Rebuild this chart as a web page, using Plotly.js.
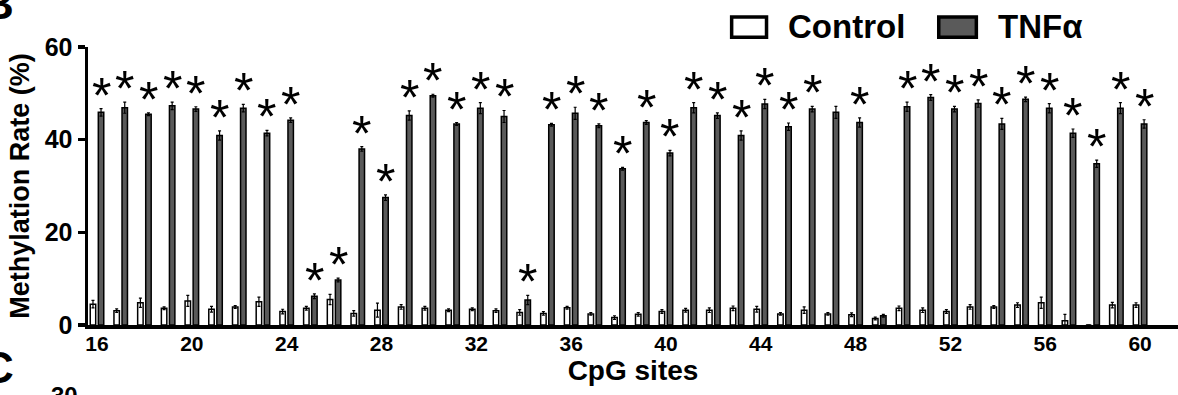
<!DOCTYPE html>
<html>
<head>
<meta charset="utf-8">
<script src="https://cdn.plot.ly/plotly-3.0.1.min.js"></script>
<style>
html,body{margin:0;padding:0;background:#fff;}
#chart{width:1178px;height:395px;}
</style>
</head>
<body>
<div id="chart"></div>
<script>
// CpG sites 16..60
const sites = [16,17,18,19,20,21,22,23,24,25,26,27,28,29,30,31,32,33,34,35,36,37,38,39,40,41,42,43,44,45,46,47,48,49,50,51,52,53,54,55,56,57,58,59,60];
const controlValues = [4.5,3.1,4.8,3.6,5.2,3.4,3.9,5.0,2.9,3.6,5.5,2.5,3.2,3.9,3.6,3.2,3.4,3.1,2.7,2.5,3.7,2.4,1.6,2.3,2.9,3.2,3.2,3.6,3.4,2.4,3.2,2.4,2.2,1.4,3.6,3.2,2.9,3.9,3.9,4.3,4.8,0.9,0.0,4.3,4.3];
const controlErr    = [0.8,0.4,1.0,0.3,1.2,0.6,0.3,1.0,0.5,0.4,1.1,0.6,1.5,0.5,0.4,0.3,0.3,0.4,0.6,0.4,0.3,0.3,0.4,0.4,0.4,0.4,0.5,0.5,0.6,0.3,0.7,0.3,0.4,0.3,0.5,0.5,0.4,0.5,0.3,0.5,1.2,1.4,0.0,0.6,0.5];
const tnfValues     = [45.9,46.9,45.5,47.3,46.6,40.9,46.8,41.4,44.2,6.2,9.7,38.0,27.5,45.2,49.5,43.4,46.8,45.0,5.4,43.2,45.7,43.0,33.7,43.7,37.1,46.9,45.2,40.9,47.7,42.8,46.6,45.9,43.7,2.0,47.1,49.1,46.6,47.8,43.4,48.7,46.8,41.4,34.8,46.8,43.4];
const tnfErr        = [0.8,1.2,0.3,0.8,0.5,1.0,0.8,0.6,0.5,0.5,0.4,0.5,0.6,1.0,0.3,0.3,1.2,1.3,1.0,0.3,1.3,0.4,0.3,0.4,0.6,1.1,0.6,1.0,1.0,0.8,0.6,1.3,1.0,0.3,1.0,0.6,0.6,0.8,1.2,0.5,1.0,0.9,0.8,1.2,0.9];
const significant   = [1,1,1,1,1,1,1,1,1,1,1,1,1,1,1,1,1,1,1,1,1,1,1,1,1,1,1,1,1,1,1,0,1,0,1,1,1,1,1,1,1,1,1,1,1];
const xTickVals = [16,20,24,28,32,36,40,44,48,52,56,60];
const yTickVals = [0,20,40,60];

const GRAY = '#5a5a5a';
const FONT = 'Arial, "Liberation Sans", sans-serif';

const traces = [
  {
    type: 'bar', name: 'Control', x: sites, y: controlValues,
    offset: -0.285, width: 0.23,
    marker: {color: '#ffffff', line: {color: '#000', width: 1.5}},
    error_y: {type: 'data', array: controlErr, visible: true, color: '#000', thickness: 1.2, width: 1.5},
    showlegend: false
  },
  {
    type: 'bar', name: 'TNFα', x: sites, y: tnfValues,
    offset: 0.055, width: 0.23,
    marker: {color: GRAY, line: {color: '#000', width: 1.5}},
    error_y: {type: 'data', array: tnfErr, visible: true, color: '#000', thickness: 1.2, width: 1.5},
    showlegend: false
  }
];

const annotations = [];
sites.forEach((s, i) => {
  if (significant[i]) {
    annotations.push({
      x: s, y: tnfValues[i] + tnfErr[i], xref: 'x', yref: 'y',
      text: '*', showarrow: false, xanchor: 'center', yanchor: 'bottom',
      xshift: 4, yshift: -17,
      font: {family: FONT, size: 50, color: '#000'}
    });
  }
});

// Panel letters and legend text
annotations.push(
  {xref: 'paper', yref: 'paper', x: -0.066, y: 1.061, xanchor: 'right', yanchor: 'bottom', showarrow: false,
   text: 'B', font: {family: FONT, size: 44, color: '#000', weight: 'bold'}},
  {xref: 'paper', yref: 'paper', x: -0.066, y: -0.248, xanchor: 'right', yanchor: 'bottom', showarrow: false,
   text: 'C', font: {family: FONT, size: 44, color: '#000', weight: 'bold'}},
  {xref: 'paper', yref: 'paper', x: -0.022, y: -0.198, xanchor: 'center', yanchor: 'top', showarrow: false,
   text: '30', font: {family: FONT, size: 24, color: '#000', weight: 'bold'}},
  {xref: 'paper', yref: 'paper', x: 0.640, y: 1.072, xanchor: 'left', yanchor: 'middle', showarrow: false,
   text: 'Control', font: {family: FONT, size: 33, color: '#000', weight: 'bold'}},
  {xref: 'paper', yref: 'paper', x: 0.833, y: 1.072, xanchor: 'left', yanchor: 'middle', showarrow: false,
   text: 'TNFα', font: {family: FONT, size: 33, color: '#000', weight: 'bold'}}
);

const shapes = [
  {type: 'rect', xref: 'paper', yref: 'paper', x0: 0.5905, x1: 0.6225, y0: 1.035, y1: 1.108,
   line: {color: '#000', width: 3.5}, fillcolor: '#fff'},
  {type: 'rect', xref: 'paper', yref: 'paper', x0: 0.7805, x1: 0.815, y0: 1.035, y1: 1.108,
   line: {color: '#000', width: 3.5}, fillcolor: GRAY}
];

const layout = {
  width: 1178, height: 395,
  margin: {l: 88, r: 0, t: 47, b: 70, pad: 0},
  paper_bgcolor: '#fff', plot_bgcolor: '#fff',
  barmode: 'overlay',
  font: {family: FONT, color: '#000'},
  xaxis: {
    range: [15.62, 61.6], tickvals: xTickVals, ticktext: xTickVals.map(String),
    showgrid: false, zeroline: false, showline: true, linecolor: '#000', linewidth: 3.5,
    ticks: '', ticklabelstandoff: -3,
    tickfont: {family: FONT, size: 21, weight: 'bold', color: '#000'},
    title: {text: 'CpG sites', font: {family: FONT, size: 28, weight: 'bold', color: '#000'}, standoff: 3}
  },
  yaxis: {
    range: [0, 60], tickvals: yTickVals, ticktext: yTickVals.map(String),
    showgrid: false, zeroline: false, showline: true, linecolor: '#000', linewidth: 3.5,
    ticks: 'outside', ticklen: 7, tickwidth: 3.5, tickcolor: '#000',
    tickfont: {family: FONT, size: 25, weight: 'bold', color: '#000'},
    title: {text: 'Methylation Rate (%)', font: {family: FONT, size: 27, weight: 'bold', color: '#000'}, standoff: 8}
  },
  annotations: annotations,
  shapes: shapes,
  showlegend: false
};

Plotly.newPlot('chart', traces, layout, {displayModeBar: false, staticPlot: true});
</script>
</body>
</html>
